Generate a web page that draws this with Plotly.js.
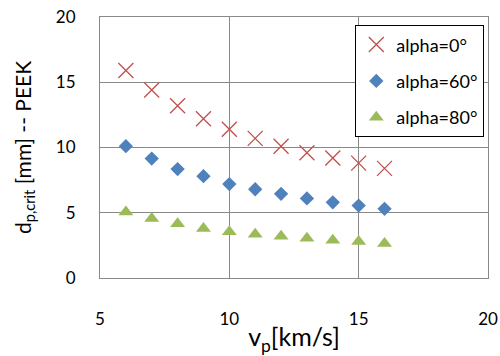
<!DOCTYPE html>
<html><head><meta charset="utf-8">
<script src="https://cdn.plot.ly/plotly-3.0.1.min.js"></script>
<style>html,body{margin:0;padding:0;background:#fff;}#chart{width:500px;height:356px;}</style>
</head><body><div id="chart"></div>
<script>
const vp = [6, 7, 8, 9, 10, 11, 12, 13, 14, 15, 16];
const alpha0 = [15.9, 14.4, 13.2, 12.2, 11.4, 10.7, 10.1, 9.6, 9.2, 8.8, 8.4];
const alpha60 = [10.1, 9.15, 8.35, 7.8, 7.2, 6.8, 6.45, 6.1, 5.8, 5.55, 5.3];
const alpha80 = [5.05, 4.55, 4.15, 3.8, 3.55, 3.35, 3.2, 3.05, 2.9, 2.8, 2.65];
const names = ["alpha=0°", "alpha=60°", "alpha=80°"];
const font = "Lato, 'Open Sans', sans-serif";

const traces = [
  {x: vp, y: alpha0, name: names[0], legendgroup: "a", mode: "markers", type: "scatter",
   marker: {symbol: "x-thin", size: 15, line: {color: "#C0504D", width: 1.3}, color: "#C0504D"}},
  {x: vp, y: alpha60, name: names[1], legendgroup: "b", mode: "markers", type: "scatter",
   marker: {symbol: "diamond", size: 11, color: "#4F81BD"}},
  {x: vp, y: alpha80, name: names[2], legendgroup: "c", mode: "markers", type: "scatter",
   marker: {symbol: "triangle-up", size: 13, color: "#9BBB59"}}
];

const axisCommon = {
  showline: true, mirror: true, linecolor: "#898989", linewidth: 1,
  showgrid: true, gridcolor: "#898989", gridwidth: 1,
  zeroline: false, ticks: "", tickfont: {family: font, size: 17, color: "#000"}
};

const layout = {
  width: 500, height: 356,
  margin: {l: 100, r: 12, t: 17, b: 78, autoexpand: false},
  paper_bgcolor: "#fff", plot_bgcolor: "#fff",
  showlegend: true,
  xaxis: Object.assign({}, axisCommon, {
    range: [5, 20], tickvals: [5, 10, 15, 20], ticktext: ["5", "10", "15", "20"],
    ticklabelstandoff: 26,
    title: {text: "v<sub>p</sub>[km/s]", font: {family: font, size: 25, color: "#000"}, standoff: 0}
  }),
  yaxis: Object.assign({}, axisCommon, {
    range: [0, 20], tickvals: [0, 5, 10, 15, 20], ticktext: ["0", "5", "10", "15", "20"],
    ticklabelstandoff: 20,
    title: {text: "d<sub>p,crit</sub> [mm] -- PEEK", font: {family: font, size: 21, color: "#000"}, standoff: 18}
  }),
  legend: {
    x: 0.658, y: 0.968, xanchor: "left", yanchor: "top",
    bgcolor: "#fff", bordercolor: "#000", borderwidth: 1,
    font: {family: font, size: 18, color: "#000"},
    tracegroupgap: 10, itemwidth: 30
  }
};

Plotly.newPlot("chart", traces, layout, {displayModeBar: false, staticPlot: true});
</script></body></html>
